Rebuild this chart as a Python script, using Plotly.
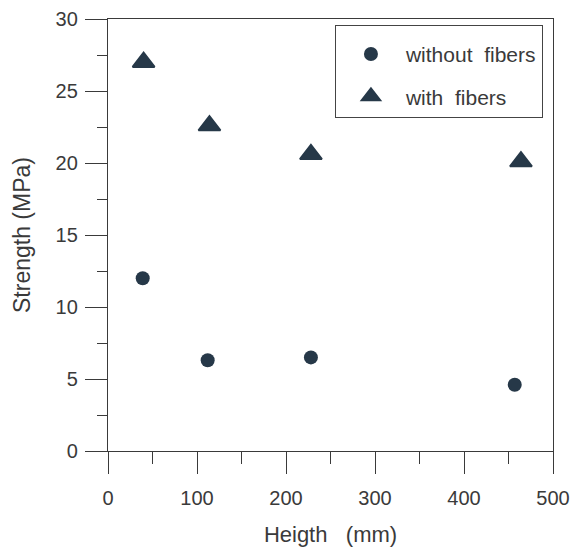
import plotly.graph_objects as go

# Data
height_without = [39, 112, 228, 457]
strength_without = [12.0, 6.3, 6.5, 4.6]
height_with = [40, 114, 228, 464]
strength_with = [27.0, 22.6, 20.6, 20.1]

x_ticks = [0, 100, 200, 300, 400, 500]
y_ticks = [0, 5, 10, 15, 20, 25, 30]

mark_color = "#263848"
axis_color = "#3a3a3a"
font_family = "Liberation Sans, Arial, sans-serif"

fig = go.Figure()
fig.add_trace(go.Scatter(
    x=height_without, y=strength_without, mode="markers",
    name="without\u00a0\u00a0fibers", legendgroup="a",
    marker=dict(symbol="circle", size=14, color=mark_color),
))
fig.add_trace(go.Scatter(
    x=height_with, y=strength_with, mode="markers",
    name="with\u00a0\u00a0fibers", legendgroup="b",
    marker=dict(symbol="triangle-up", size=19, color=mark_color,
                line=dict(color=mark_color, width=2)),
))

fig.update_layout(
    width=575, height=550,
    margin=dict(l=108, r=22, t=19, b=99),
    paper_bgcolor="white", plot_bgcolor="white",
    font=dict(family=font_family, size=20, color=axis_color),
    showlegend=True,
    legend=dict(
        x=0.51, y=0.986, xanchor="left", yanchor="top",
        bgcolor="white", bordercolor="#444444", borderwidth=1,
        font=dict(size=21, color=axis_color),
        tracegroupgap=12, traceorder="grouped",
        itemwidth=60,
        title=dict(text=" ", font=dict(size=6)),
    ),
)

fig.update_xaxes(
    range=[0, 500], tickvals=x_ticks, ticktext=[str(v) for v in x_ticks],
    showgrid=False, zeroline=False, automargin=False,
    showline=True, linecolor=axis_color, linewidth=1.3, mirror=True,
    ticks="outside", ticklen=22, tickwidth=1.3, tickcolor=axis_color,
    minor=dict(dtick=50, ticks="outside", ticklen=12, tickwidth=1.3,
               tickcolor=axis_color, showgrid=False),
    ticklabelstandoff=7,
    tickfont=dict(size=20),
    title=dict(text="Heigth\u00a0\u00a0\u00a0(mm)", font=dict(size=22), standoff=18),
)
fig.update_yaxes(
    range=[0, 30], tickvals=y_ticks, ticktext=[str(v) for v in y_ticks],
    showgrid=False, zeroline=False, automargin=False,
    showline=True, linecolor=axis_color, linewidth=1.3, mirror=True,
    ticks="outside", ticklen=22, tickwidth=1.3, tickcolor=axis_color,
    minor=dict(dtick=2.5, ticks="outside", ticklen=10, tickwidth=1.3,
               tickcolor=axis_color, showgrid=False),
    ticklabelstandoff=3,
    tickfont=dict(size=20),
    title=dict(text="Strength\u00a0(MPa)", font=dict(size=23), standoff=18),
)

fig.write_html("out.html")
